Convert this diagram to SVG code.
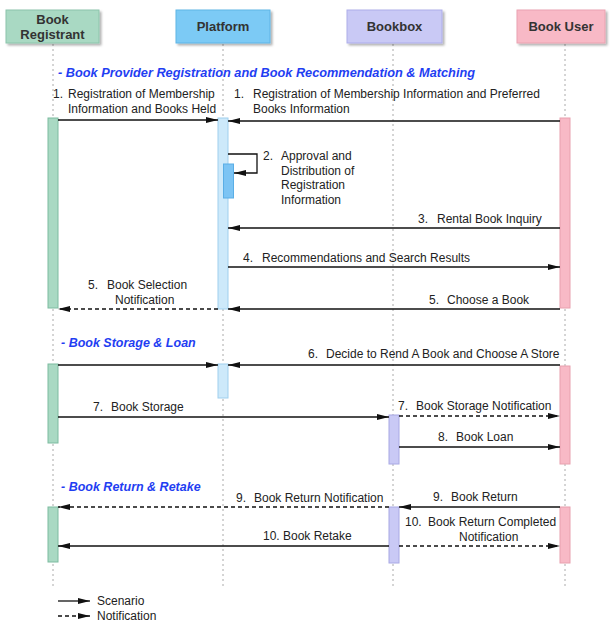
<svg xmlns="http://www.w3.org/2000/svg" width="610" height="623" viewBox="0 0 610 623">
<style>
.hd{font-family:"Liberation Sans",Arial,sans-serif;font-size:13px;font-weight:bold;fill:#333;text-anchor:middle}
.t{font-family:"Liberation Sans",Arial,sans-serif;font-size:12px;fill:#222}
.sec{font-family:"Liberation Sans",Arial,sans-serif;font-size:12.5px;font-weight:bold;font-style:italic;fill:#1f3ef2}
.life{stroke:#aaa;stroke-width:1;stroke-dasharray:2,3}
.m{stroke:#111;stroke-width:1.3;fill:none;marker-end:url(#ah)}
.d{stroke:#111;stroke-width:1.3;fill:none;stroke-dasharray:4,3;marker-end:url(#ah)}
.rg{fill:#a9d9c3;stroke:#7dbba0}
.pf{fill:#cde9fa;stroke:#9fcfee}
.bb{fill:#c9c9f5;stroke:#a8a8e4}
.bu{fill:#f8b9c6;stroke:#e8a0ae}
</style>
<defs>
<marker id="ah" viewBox="0 0 12 6" refX="12" refY="3" markerWidth="12" markerHeight="6" markerUnits="userSpaceOnUse" orient="auto">
<path d="M0,0 L12,3 L0,6 Z" fill="#111"/>
</marker>
<filter id="sh" x="-10%" y="-10%" width="130%" height="140%">
<feDropShadow dx="2" dy="2" stdDeviation="1.2" flood-color="#000" flood-opacity="0.3"/>
</filter>
</defs>
<rect width="610" height="623" fill="#fff"/>

<g id="lifelines">
<line class="life" x1="53" y1="44" x2="53" y2="588"/>
<line class="life" x1="223" y1="44" x2="223" y2="588"/>
<line class="life" x1="393" y1="44" x2="393" y2="588"/>
<line class="life" x1="565" y1="44" x2="565" y2="588"/>
</g>

<g id="node-registrant">
<rect x="6" y="10" width="93" height="33" fill="#a9d9c3" stroke="#8cc4ab" filter="url(#sh)"/>
<text class="hd" x="52.5" y="24">Book</text>
<text class="hd" x="52.5" y="39">Registrant</text>
</g>
<g id="node-platform">
<rect x="176" y="10" width="94" height="33" fill="#7ccaf5" stroke="#5fb5e6" filter="url(#sh)"/>
<text class="hd" x="223" y="31">Platform</text>
</g>
<g id="node-bookbox">
<rect x="347" y="10" width="95" height="33" fill="#c9c9f5" stroke="#adadea" filter="url(#sh)"/>
<text class="hd" x="394.5" y="31">Bookbox</text>
</g>
<g id="node-bookuser">
<rect x="517" y="10" width="88" height="33" fill="#f8b9c6" stroke="#eaa2b1" filter="url(#sh)"/>
<text class="hd" x="561" y="31">Book User</text>
</g>

<g id="activations">
<rect class="rg" x="48" y="118" width="10" height="190"/>
<rect class="pf" x="218" y="118" width="10" height="191"/>
<rect x="223.5" y="164" width="10" height="34" fill="#7cc4f4" stroke="#5aaee6"/>
<rect class="bu" x="560" y="118" width="10" height="190"/>

<rect class="rg" x="48" y="364" width="10" height="79"/>
<rect class="pf" x="218" y="364" width="10" height="34"/>
<rect class="bb" x="389" y="415" width="10" height="49"/>
<rect class="bu" x="560" y="366" width="10" height="98"/>

<rect class="rg" x="48" y="507" width="10" height="55"/>
<rect class="bb" x="389" y="507" width="10" height="56"/>
<rect class="bu" x="560" y="507" width="10" height="56"/>
</g>

<g id="sections">
<text class="sec" x="58" y="77" textLength="417" lengthAdjust="spacingAndGlyphs">- Book Provider Registration and Book Recommendation &amp; Matching</text>
<text class="sec" x="61" y="347">-  Book Storage &amp; Loan</text>
<text class="sec" x="61" y="491">-  Book Return &amp; Retake</text>
</g>

<g id="connectors">
<line class="m" x1="58" y1="120" x2="218" y2="120"/>
<line class="m" x1="560" y1="121" x2="228" y2="121"/>
<polyline class="m" points="228,154 257,154 257,173 234,173"/>
<line class="m" x1="560" y1="228" x2="228" y2="228"/>
<line class="m" x1="228" y1="267" x2="560" y2="267"/>
<line class="d" x1="218" y1="309" x2="58" y2="309"/>
<line class="m" x1="560" y1="309" x2="228" y2="309"/>

<line class="m" x1="58" y1="365" x2="218" y2="365"/>
<line class="m" x1="560" y1="365" x2="228" y2="365"/>
<line class="m" x1="58" y1="417" x2="389" y2="417"/>
<line class="d" x1="399" y1="416" x2="560" y2="416"/>
<line class="m" x1="399" y1="447" x2="560" y2="447"/>

<line class="d" x1="389" y1="507" x2="58" y2="507"/>
<line class="m" x1="560" y1="507" x2="399" y2="507"/>
<line class="m" x1="389" y1="546" x2="58" y2="546"/>
<line class="d" x1="399" y1="546" x2="560" y2="546"/>
</g>

<g id="labels">
<text class="t" y="98"><tspan x="53">1.</tspan><tspan x="68">Registration of Membership</tspan></text>
<text class="t" x="68" y="113">Information and Books Held</text>
<text class="t" y="98"><tspan x="234">1.</tspan><tspan x="253">Registration of Membership Information and Preferred</tspan></text>
<text class="t" x="253" y="113">Books Information</text>
<text class="t" y="160"><tspan x="263">2.</tspan><tspan x="281">Approval and</tspan></text>
<text class="t" x="281" y="175">Distribution of</text>
<text class="t" x="281" y="189">Registration</text>
<text class="t" x="281" y="204">Information</text>
<text class="t" y="223"><tspan x="418">3.</tspan><tspan x="437">Rental Book Inquiry</tspan></text>
<text class="t" y="262"><tspan x="243">4.</tspan><tspan x="262">Recommendations and Search Results</tspan></text>
<text class="t" y="289"><tspan x="88">5.</tspan><tspan x="107">Book Selection</tspan></text>
<text class="t" x="115" y="304">Notification</text>
<text class="t" y="304"><tspan x="429">5.</tspan><tspan x="447">Choose a Book</tspan></text>
<text class="t" y="358"><tspan x="308">6.</tspan><tspan x="326">Decide to Rend A Book and Choose A Store</tspan></text>
<text class="t" y="411"><tspan x="93">7.</tspan><tspan x="111">Book Storage</tspan></text>
<text class="t" y="410"><tspan x="398">7.</tspan><tspan x="416">Book Storage Notification</tspan></text>
<text class="t" y="441"><tspan x="438">8.</tspan><tspan x="456">Book Loan</tspan></text>
<text class="t" y="502"><tspan x="236">9.</tspan><tspan x="254">Book Return Notification</tspan></text>
<text class="t" y="501"><tspan x="433">9.</tspan><tspan x="451">Book Return</tspan></text>
<text class="t" y="540"><tspan x="263">10.</tspan><tspan x="283">Book Retake</tspan></text>
<text class="t" y="526"><tspan x="405">10.</tspan><tspan x="428">Book Return Completed</tspan></text>
<text class="t" x="459" y="541">Notification</text>
</g>

<g id="legend">
<line class="m" x1="58" y1="601" x2="90" y2="601"/>
<text class="t" x="97" y="605">Scenario</text>
<line class="d" x1="58" y1="616" x2="90" y2="616"/>
<text class="t" x="97" y="620">Notification</text>
</g>
</svg>
